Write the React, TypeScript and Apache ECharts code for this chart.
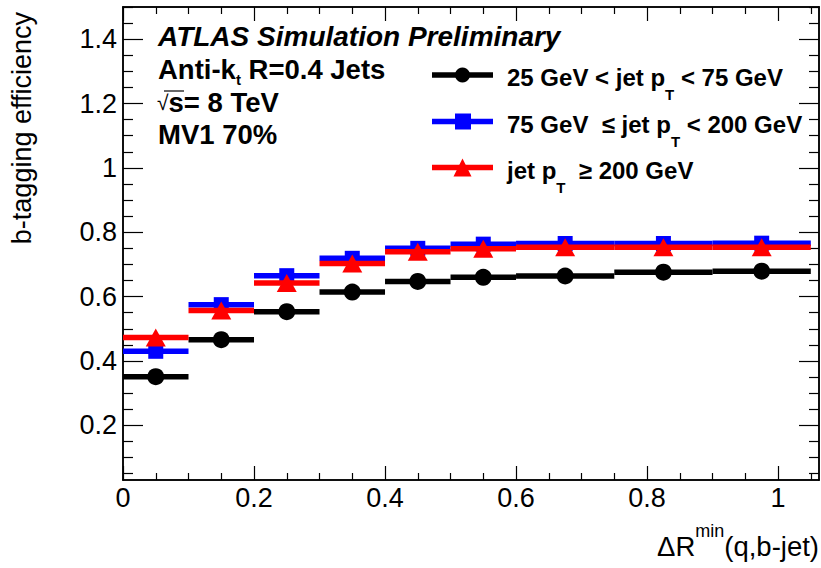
import React, { useEffect, useRef } from "react";
import * as echarts from "echarts";

// ---- data ----
const binLow = [0, 0.1, 0.2, 0.3, 0.4, 0.5, 0.6, 0.75, 0.9];
const binHigh = [0.1, 0.2, 0.3, 0.4, 0.5, 0.6, 0.75, 0.9, 1.05];
const effLowPt = [0.351, 0.466, 0.553, 0.614, 0.647, 0.66, 0.664, 0.676, 0.679]; // 25-75 GeV
const effMidPt = [0.43, 0.575, 0.665, 0.719, 0.75, 0.763, 0.765, 0.765, 0.766]; // 75-200 GeV
const effHighPt = [0.473, 0.557, 0.642, 0.703, 0.739, 0.749, 0.753, 0.753, 0.753]; // >=200 GeV

const xTickValues = [0, 0.2, 0.4, 0.6, 0.8, 1];
const yTickValues = [0.2, 0.4, 0.6, 0.8, 1, 1.2, 1.4];
const xMinorValues = [0.05, 0.1, 0.15, 0.25, 0.3, 0.35, 0.45, 0.5, 0.55, 0.65, 0.7, 0.75, 0.85, 0.9, 0.95, 1.05];
const yMinorValues = [0.05, 0.1, 0.15, 0.25, 0.3, 0.35, 0.45, 0.5, 0.55, 0.65, 0.7, 0.75, 0.85, 0.9, 0.95, 1.05, 1.1, 1.15, 1.25, 1.3, 1.35, 1.45, 1.5];

const X_MIN = 0;
const X_MAX = 1.0625;
const Y_MIN = 0.03;
const Y_MAX = 1.5;

const FONT = '"Liberation Sans", Arial, Helvetica, sans-serif';

function xAxisDef(gridIndex: number, position: string, ticks: number[], len: number, labels: boolean) {
  return {
    type: "value",
    gridIndex,
    position,
    min: X_MIN,
    max: X_MAX,
    axisLine: { show: true, onZero: false, lineStyle: { color: "#000", width: 1.5 } },
    axisTick: { show: true, inside: true, length: len, customValues: ticks, lineStyle: { color: "#000", width: 1.2 } },
    axisLabel: labels
      ? { show: true, customValues: ticks, margin: 4, fontSize: 27, fontFamily: FONT, color: "#000", formatter: (v: number) => String(v) }
      : { show: false },
    splitLine: { show: false },
    minorTick: { show: false },
  };
}

function yAxisDef(gridIndex: number, position: string, ticks: number[], len: number, labels: boolean) {
  return {
    type: "value",
    gridIndex,
    position,
    min: Y_MIN,
    max: Y_MAX,
    axisLine: { show: true, onZero: false, lineStyle: { color: "#000", width: 1.5 } },
    axisTick: { show: true, inside: true, length: len, customValues: ticks, lineStyle: { color: "#000", width: 1.2 } },
    axisLabel: labels
      ? { show: true, customValues: ticks, margin: 6, fontSize: 27, fontFamily: FONT, color: "#000", formatter: (v: number) => String(v) }
      : { show: false },
    splitLine: { show: false },
    minorTick: { show: false },
  };
}

function binSeries(name: string, values: number[], color: string, z: number) {
  return {
    type: "custom",
    name,
    xAxisIndex: 0,
    yAxisIndex: 0,
    z,
    silent: true,
    data: values.map((v, i) => [binLow[i], binHigh[i], v]),
    encode: { x: [0, 1], y: 2 },
    renderItem: (_params: any, api: any) => {
      const a = api.coord([api.value(0), api.value(2)]);
      const b = api.coord([api.value(1), api.value(2)]);
      return {
        type: "line",
        shape: { x1: a[0], y1: a[1], x2: b[0], y2: b[1] },
        style: { stroke: color, lineWidth: 5.5 },
      };
    },
  };
}

function markerSeries(name: string, values: number[], color: string, symbol: string, size: any, z: number) {
  return {
    type: "scatter",
    name,
    xAxisIndex: 0,
    yAxisIndex: 0,
    z,
    silent: true,
    symbol,
    symbolSize: size,
    itemStyle: { color, opacity: 1 },
    data: values.map((v, i) => [(binLow[i] + binHigh[i]) / 2, v]),
  };
}

function legendEntry(cy: number, color: string, marker: any, text: string) {
  return [
    { type: "line", shape: { x1: 432, y1: cy, x2: 493, y2: cy }, style: { stroke: color, lineWidth: 5.5 } },
    marker,
    {
      type: "text",
      x: 507,
      y: cy + 2.5,
      style: {
        text,
        fill: "#000",
        verticalAlign: "middle",
        align: "left",
        rich: {
          m: { fontSize: 24, fontWeight: "bold", fontFamily: FONT, fill: "#000", lineHeight: 49 },
          s: { fontSize: 15, fontWeight: "bold", fontFamily: FONT, fill: "#000", lineHeight: 15, verticalAlign: "bottom" },
        },
      },
    },
  ];
}

export default function App() {
  const ref = useRef<HTMLDivElement>(null);
  useEffect(() => {
    if (!ref.current) return;
    const chart = echarts.init(ref.current, null, { renderer: "svg" });
    const gridBox = { left: 123, right: 2, top: 7, bottom: 88, containLabel: false, outerBoundsMode: "none" };
    const option: any = {
      animation: false,
      backgroundColor: "#fff",
      grid: [{ ...gridBox }, { ...gridBox }],
      xAxis: [
        xAxisDef(0, "bottom", xTickValues, 14, true),
        xAxisDef(0, "top", xTickValues, 14, false),
        xAxisDef(1, "bottom", xMinorValues, 7, false),
        xAxisDef(1, "top", xMinorValues, 7, false),
      ],
      yAxis: [
        yAxisDef(0, "left", yTickValues, 20, true),
        yAxisDef(0, "right", yTickValues, 20, false),
        yAxisDef(1, "left", yMinorValues, 10, false),
        yAxisDef(1, "right", yMinorValues, 10, false),
      ],
      series: [
        binSeries("25 GeV < jet pT < 75 GeV", effLowPt, "#000000", 2),
        markerSeries("25 GeV < jet pT < 75 GeV", effLowPt, "#000000", "circle", 17, 3),
        binSeries("75 GeV ≤ jet pT < 200 GeV", effMidPt, "#0000ff", 4),
        markerSeries("75 GeV ≤ jet pT < 200 GeV", effMidPt, "#0000ff", "rect", 15, 5),
        binSeries("jet pT ≥ 200 GeV", effHighPt, "#ff0000", 6),
        markerSeries("jet pT ≥ 200 GeV", effHighPt, "#ff0000", "triangle", [20, 18], 7),
      ],
      graphic: [
        {
          type: "text",
          x: 158,
          y: 36,
          style: { text: "ATLAS Simulation Preliminary", fontSize: 28, fontWeight: "bold", fontStyle: "italic", fontFamily: FONT, fill: "#000", verticalAlign: "middle" },
        },
        {
          type: "text",
          x: 158,
          y: 69,
          style: {
            text: "{m|Anti-k}{s|t}{m| R=0.4 Jets}",
            verticalAlign: "middle",
            rich: {
              m: { fontSize: 27.5, fontWeight: "bold", fontFamily: FONT, fill: "#000", lineHeight: 35 },
              s: { fontSize: 15, fontWeight: "bold", fontFamily: FONT, fill: "#000", lineHeight: 15, verticalAlign: "bottom" },
            },
          },
        },
        {
          type: "text",
          x: 157,
          y: 102.5,
          style: {
            text: "{r|√}{m|s= 8 TeV}",
            verticalAlign: "middle",
            rich: {
              r: { fontSize: 21, fontWeight: "normal", fontFamily: FONT, fill: "#000" },
              m: { fontSize: 27.5, fontWeight: "bold", fontFamily: FONT, fill: "#000" },
            },
          },
        },
        { type: "line", shape: { x1: 164, y1: 91, x2: 184, y2: 91 }, style: { stroke: "#000", lineWidth: 1.2 } },
        {
          type: "text",
          x: 158,
          y: 134.5,
          style: { text: "MV1 70%", fontSize: 27.5, fontWeight: "bold", fontFamily: FONT, fill: "#000", verticalAlign: "middle" },
        },
        ...legendEntry(75, "#000000", { type: "circle", shape: { cx: 462.5, cy: 75, r: 7.5 }, style: { fill: "#000" } }, "{m|25 GeV < jet p}{s|T}{m| < 75 GeV}"),
        ...legendEntry(121.5, "#0000ff", { type: "rect", shape: { x: 455, y: 113.5, width: 16, height: 16 }, style: { fill: "#0000ff" } }, "{m|75 GeV  ≤ jet p}{s|T}{m| < 200 GeV}"),
        ...legendEntry(167.5, "#ff0000", { type: "polygon", shape: { points: [[462.5, 158.5], [453.5, 176.5], [471.5, 176.5]] }, style: { fill: "#ff0000" } }, "{m|jet p}{s|T}{m|  ≥ 200 GeV}"),
        {
          type: "text",
          x: 22,
          y: 12,
          rotation: Math.PI / 2,
          style: { text: "b-tagging efficiency", fontSize: 27, fontFamily: FONT, fill: "#000", align: "right", verticalAlign: "middle" },
        },
        {
          type: "text",
          x: 819,
          y: 546,
          style: {
            text: "{m|ΔR}{p|min}{m|(q,b-jet)}",
            align: "right",
            verticalAlign: "middle",
            rich: {
              m: { fontSize: 27.5, fontFamily: FONT, fill: "#000", lineHeight: 48 },
              p: { fontSize: 18, fontFamily: FONT, fill: "#000", lineHeight: 18, verticalAlign: "top" },
            },
          },
        },
      ],
    };
    chart.setOption(option);
    return () => chart.dispose();
  }, []);
  return <div ref={ref} style={{ position: "fixed", left: 0, top: 0, width: 821, height: 568, background: "#fff" }} />;
}
